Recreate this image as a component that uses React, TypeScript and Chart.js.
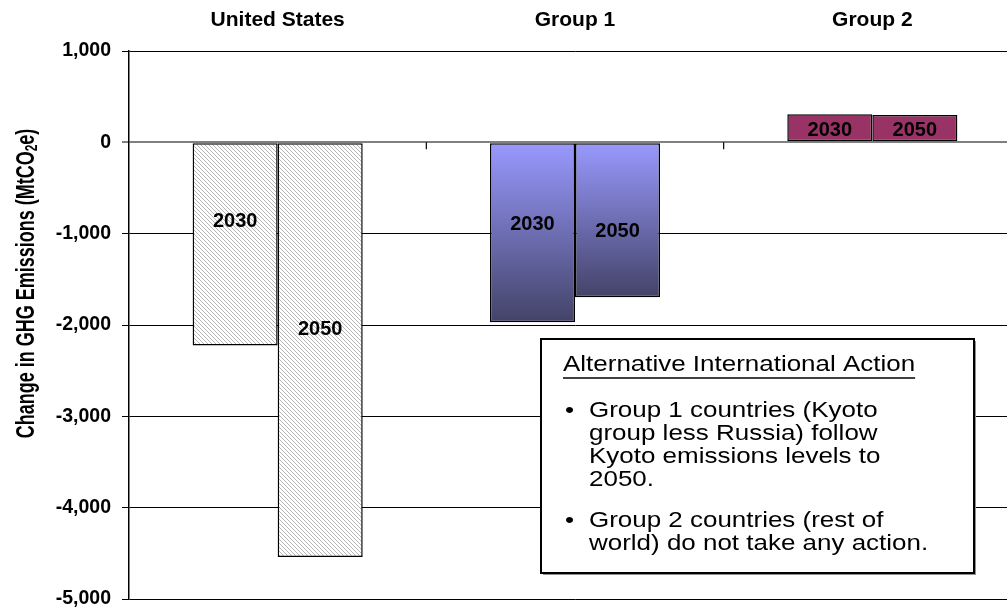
import React, { useEffect, useRef } from 'react';
import { Chart, registerables } from 'chart.js';

Chart.register(...registerables);

// ---- data ----
const categories = ['United States', 'Group 1', 'Group 2'];
const seriesNames = ['2030', '2050'];
const values2030 = [-2225, -1970, 307];
const values2050 = [-4540, -1697, 300];
const yTickValues = [1000, 0, -1000, -2000, -3000, -4000, -5000];
const yTitleMain = 'Change in GHG Emissions (MtCO';
const yTitleSub = '2';
const yTitleEnd = 'e)';
const boxTitle = 'Alternative International Action';
const boxBullets = [
  ['Group 1 countries (Kyoto', 'group less Russia) follow', 'Kyoto emissions levels to', '2050.'],
  ['Group 2 countries (rest of', 'world) do not take any action.'],
];

const W = 1040;
const H = 610;
const FONT = "'Liberation Sans', Arial, Helvetica, sans-serif";

// label anchor values (in data units) for the in-bar year labels
const labelAnchors = [
  [-865, -898, 125],
  [-2048, -975, 125],
];

function makeHatch(): CanvasPattern | string {
  const c = document.createElement('canvas');
  const n = 4;
  c.width = n;
  c.height = n;
  const g = c.getContext('2d');
  if (!g) return '#ccc';
  g.fillStyle = '#ffffff';
  g.fillRect(0, 0, n, n);
  g.strokeStyle = '#b4b4b4';
  g.lineWidth = 1;
  g.beginPath();
  g.moveTo(0, 0);
  g.lineTo(n, n);
  g.moveTo(-1, n - 1);
  g.lineTo(1, n + 1);
  g.moveTo(n - 1, -1);
  g.lineTo(n + 1, 1);
  g.stroke();
  const p = g.createPattern(c, 'repeat');
  return p || '#ccc';
}

const overlayPlugin = {
  id: 'overlay',
  afterDatasetsDraw(chart: any) {
    const { ctx } = chart;
    const x = chart.scales.x;
    const y = chart.scales.y;
    const y0 = y.getPixelForValue(0);
    ctx.save();
    ctx.strokeStyle = '#000';
    ctx.lineWidth = 1.2;
    for (let i = 0; i < categories.length - 1; i++) {
      const bx = (x.getPixelForValue(i) + x.getPixelForValue(i + 1)) / 2;
      ctx.beginPath();
      ctx.moveTo(bx, y0);
      ctx.lineTo(bx, y0 + 7);
      ctx.stroke();
    }
    ctx.font = `bold 20px ${FONT}`;
    ctx.textAlign = 'center';
    ctx.textBaseline = 'middle';
    ctx.fillStyle = '#000';
    chart.data.datasets.forEach((ds: any, di: number) => {
      const meta = chart.getDatasetMeta(di);
      meta.data.forEach((bar: any, i: number) => {
        ctx.fillText(ds.label, bar.x, y.getPixelForValue(labelAnchors[di][i]));
      });
    });
    ctx.restore();
  },
  afterDraw(chart: any) {
    const { ctx } = chart;
    ctx.save();
    // y axis title with subscript
    ctx.translate(27, 283.5);
    ctx.rotate(-Math.PI / 2);
    ctx.scale(1, 1.4);
    ctx.fillStyle = '#000';
    ctx.textBaseline = 'middle';
    ctx.textAlign = 'left';
    const big = `bold 18px ${FONT}`;
    const small = `bold 12px ${FONT}`;
    ctx.font = big;
    const w1 = ctx.measureText(yTitleMain).width;
    const w3 = ctx.measureText(yTitleEnd).width;
    ctx.font = small;
    const w2 = ctx.measureText(yTitleSub).width;
    const total = w1 + w2 + w3;
    let cx = -total / 2;
    ctx.font = big;
    ctx.fillText(yTitleMain, cx, 0);
    cx += w1;
    ctx.font = small;
    ctx.fillText(yTitleSub, cx, 4);
    cx += w2;
    ctx.font = big;
    ctx.fillText(yTitleEnd, cx, 0);
    ctx.restore();

    // annotation box
    ctx.save();
    const bl = 541;
    const br = 974;
    const bt = 339;
    const bb = 573;
    ctx.fillStyle = '#909090';
    ctx.fillRect(bl + 2, bt + 2, br - bl, bb - bt);
    ctx.fillStyle = '#fff';
    ctx.fillRect(bl, bt, br - bl, bb - bt);
    ctx.strokeStyle = '#000';
    ctx.lineWidth = 2;
    ctx.strokeRect(bl, bt, br - bl, bb - bt);
    ctx.fillStyle = '#000';
    ctx.font = `22px ${FONT}`;
    ctx.textAlign = 'left';
    ctx.textBaseline = 'alphabetic';
    const SX = 1.18;
    const drawStretched = (t: string, x: number, yb: number) => {
      ctx.save();
      ctx.translate(x, yb);
      ctx.scale(SX, 1);
      ctx.fillText(t, 0, 0);
      ctx.restore();
      return ctx.measureText(t).width * SX;
    };
    const tx = 563;
    const tw = drawStretched(boxTitle, tx, 371);
    ctx.lineWidth = 1.5;
    ctx.beginPath();
    ctx.moveTo(tx, 378);
    ctx.lineTo(tx + tw, 378);
    ctx.stroke();
    const baselines = [
      [417, 440, 463, 486],
      [527, 550],
    ];
    boxBullets.forEach((lines, bi) => {
      drawStretched('\u2022', 565, baselines[bi][0]);
      lines.forEach((ln, li) => {
        drawStretched(ln, 589, baselines[bi][li]);
      });
    });
    ctx.restore();
  },
};

export default function App() {
  const ref = useRef<HTMLCanvasElement | null>(null);

  useEffect(() => {
    if (!ref.current) return;
    const hatch = makeHatch();
    const bg = (c: any) => {
      const i = c.dataIndex;
      if (i === 0) return hatch;
      if (i === 2) return '#993366';
      const chart = c.chart;
      const y = chart.scales && chart.scales.y;
      if (!y || y.top === undefined || c.raw === undefined) return '#8080e0';
      const y0 = y.getPixelForValue(0);
      const y1 = y.getPixelForValue(c.raw);
      if (!isFinite(y0) || !isFinite(y1) || y0 === y1) return '#8080e0';
      const g = chart.ctx.createLinearGradient(0, y0, 0, y1);
      g.addColorStop(0, '#9999ff');
      g.addColorStop(1, '#434368');
      return g;
    };
    const chart = new Chart(ref.current, {
      type: 'bar',
      data: {
        labels: categories,
        datasets: [
          { label: seriesNames[0], data: values2030, backgroundColor: bg, borderColor: '#000', borderWidth: 1.5, borderSkipped: false },
          { label: seriesNames[1], data: values2050, backgroundColor: bg, borderColor: '#000', borderWidth: 1.5, borderSkipped: false },
        ],
      },
      options: {
        responsive: false,
        maintainAspectRatio: false,
        animation: false,
        devicePixelRatio: 1,
        datasets: { bar: { categoryPercentage: 0.572, barPercentage: 1.0 } },
        layout: { padding: { left: 0, right: W - 1021, top: 0, bottom: 11 } },
        plugins: {
          legend: { display: false },
          tooltip: { enabled: false },
          title: { display: false },
        },
        scales: {
          x: {
            position: 'top',
            grid: { display: false, drawTicks: false },
            border: { display: false },
            ticks: {
              color: '#000',
              padding: 18,
              font: { family: FONT, size: 21, weight: 'bold' },
            },
            afterFit: (s: any) => {
              s.height = 51;
            },
          },
          y: {
            min: -5000,
            max: 1000,
            afterBuildTicks: (s: any) => {
              s.ticks = yTickValues.map((v) => ({ value: v }));
            },
            ticks: {
              color: '#000',
              padding: 11,
              font: { family: FONT, size: 19.5, weight: 'bold' },
              callback: (v: any) => Number(v).toLocaleString('en-US'),
            },
            grid: {
              color: (c: any) => (c.tick && c.tick.value === 0 ? '#808080' : '#000'),
              lineWidth: (c: any) => (c.tick && c.tick.value === 0 ? 2 : 1),
              tickLength: 7,
              drawTicks: true,
            },
            border: { display: true, color: '#000', width: 1.5 },
            afterFit: (s: any) => {
              s.width = 129;
              s.paddingTop = 0;
              s.paddingBottom = 0;
            },
          },
        },
      },
      plugins: [overlayPlugin],
    } as any);
    return () => chart.destroy();
  }, []);

  return (
    <div style={{ position: 'fixed', left: 0, top: 0, width: 1007, height: 610, overflow: 'hidden', background: '#fff' }}>
      <canvas ref={ref} width={W} height={H} style={{ display: 'block', width: W, height: H }} />
    </div>
  );
}
